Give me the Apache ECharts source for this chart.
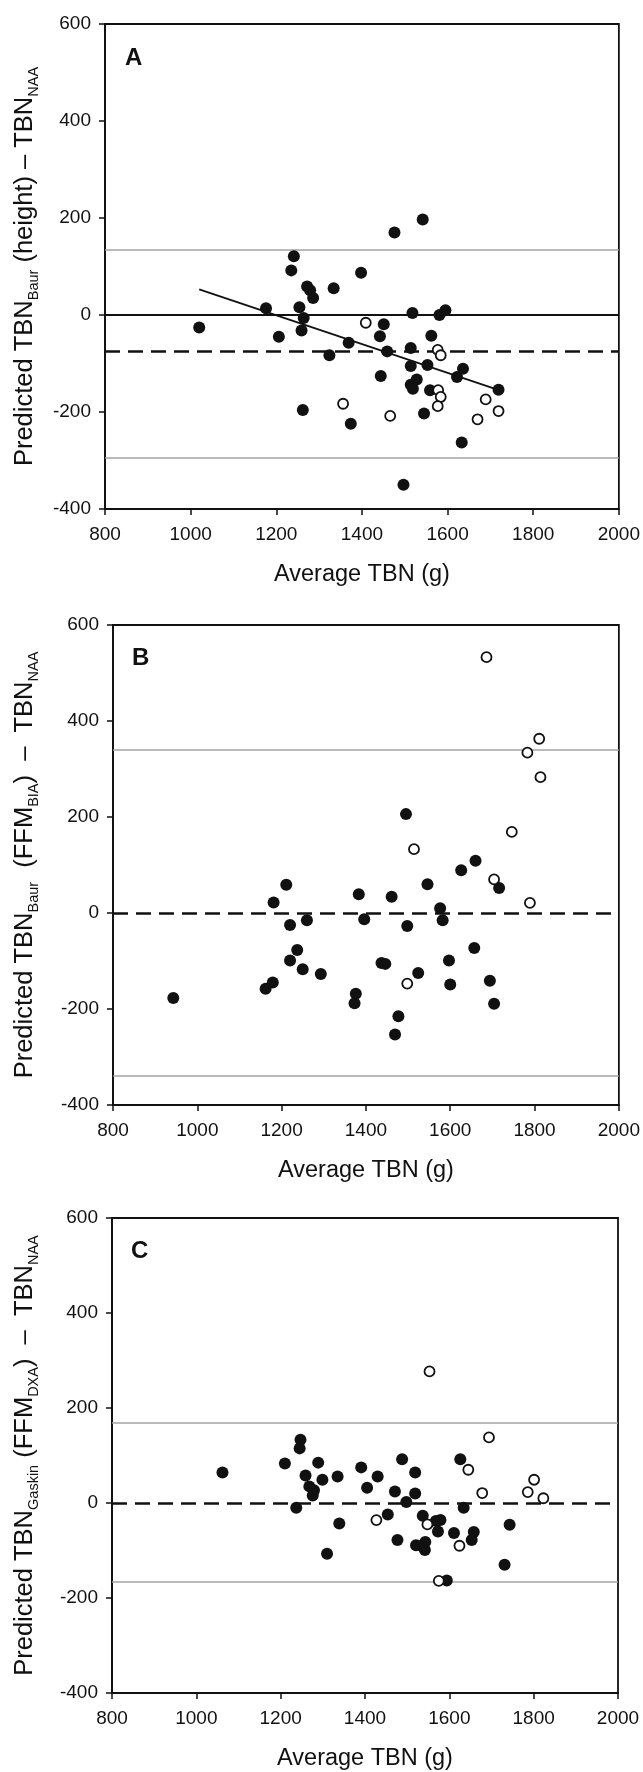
<!DOCTYPE html>
<html>
<head>
<meta charset="utf-8">
<script src="https://cdn.jsdelivr.net/npm/echarts@6/dist/echarts.min.js"></script>
<style>
  html, body { margin: 0; padding: 0; background: #fff; }
  #chart { width: 643px; height: 1772px; }
</style>
</head>
<body>
<div id="chart"></div>
<script>
// axis ranges (shared by the three panels)
const xMin = 800, xMax = 2000, xStep = 200;
const yMin = -400, yMax = 600, yStep = 200;

// panel A: height-based prediction
const aFilled = [
  [1542, 197], [1476, 170], [1241, 121], [1235, 92], [1398, 87], [1272, 59], [1279, 51],
  [1286, 35], [1334, 55], [1176, 14], [1254, 16], [1264, -6], [1518, 4], [1581, 0],
  [1595, 10], [1020, -26], [1451, -19], [1206, -45], [1259, -32], [1442, -44], [1562, -43],
  [1369, -57], [1324, -83], [1459, -75], [1514, -68], [1514, -105], [1553, -103], [1636, -111],
  [1444, -126], [1528, -133], [1622, -128], [1514, -144], [1519, -152], [1559, -155],
  [1719, -154], [1262, -196], [1545, -203], [1374, -224], [1633, -263], [1497, -350]
];
const aOpen = [
  [1409, -16], [1577, -72], [1584, -83], [1578, -155], [1584, -169], [1577, -188],
  [1356, -183], [1689, -174], [1719, -198], [1466, -208], [1670, -215]
];
const aFit = [[1020, 53], [1720, -155]];
const aMean = -75;
const aUpper = 134;
const aLower = -294;

// panel B: FFM (BIA)
const bFilled = [
  [1495, 206], [1660, 109], [1626, 89], [1716, 52], [1211, 59], [1546, 60], [1383, 39],
  [1461, 34], [1181, 22], [1576, 10], [1220, -25], [1260, -15], [1396, -13], [1498, -27],
  [1582, -15], [1237, -77], [1220, -99], [1250, -117], [1293, -127], [1437, -104], [1446, -106],
  [1524, -125], [1657, -73], [1597, -99], [1600, -149], [1694, -141], [1704, -189], [1162, -158],
  [1179, -145], [943, -177], [1376, -168], [1373, -188], [1477, -215], [1469, -253]
];
const bOpen = [
  [1686, 533], [1811, 363], [1783, 334], [1814, 283], [1746, 169], [1514, 133],
  [1704, 70], [1789, 21], [1498, -147]
];
const bMean = 0;
const bUpper = 340;
const bLower = -340;

// panel C: Gaskin, FFM (DXA)
const cFilled = [
  [1247, 133], [1245, 115], [1488, 92], [1626, 92], [1210, 83], [1289, 85], [1391, 75],
  [1062, 64], [1259, 58], [1335, 56], [1299, 49], [1430, 56], [1519, 64], [1268, 35],
  [1279, 27], [1276, 16], [1405, 32], [1471, 24], [1519, 20], [1498, 2], [1237, -10],
  [1634, -10], [1454, -24], [1339, -43], [1537, -27], [1568, -38], [1579, -36], [1573, -60],
  [1743, -46], [1611, -63], [1658, -61], [1653, -78], [1477, -78], [1521, -89], [1534, -90],
  [1543, -82], [1542, -99], [1310, -107], [1731, -130], [1594, -163]
];
const cOpen = [
  [1553, 277], [1694, 138], [1645, 70], [1801, 49], [1678, 21], [1786, 23], [1823, 10],
  [1427, -36], [1548, -45], [1624, -90], [1575, -164]
];
const cMean = 0;
const cUpper = 169;
const cLower = -165;

const yTitles = [
  '{n|Predicted TBN}{s|Baur}{n| (height) \u2013 TBN}{s|NAA}',
  '{n|Predicted TBN}{s|Baur}{n|  (FFM}{s|BIA}{n|)  \u2013  TBN}{s|NAA}',
  '{n|Predicted TBN}{s|Gaskin}{n| (FFM}{s|DXA}{n|)  \u2013  TBN}{s|NAA}'
];
const panelLetters = ['A', 'B', 'C'];

const FONT = '"Liberation Sans", Arial, Helvetica, sans-serif';
const INK = '#111';

const grids = [
  { left: 105, right: 24, top: 24, height: 485 },
  { left: 113, right: 24, top: 625, height: 480 },
  { left: 112, right: 25, top: 1218, height: 478 }
];
const yNameGap = [64, 72, 71];

function makeXAxis(i) {
  return {
    type: 'value', gridIndex: i, min: xMin, max: xMax, interval: xStep,
    name: 'Average TBN (g)', nameLocation: 'middle', nameGap: 54,
    nameTextStyle: { fontSize: 23.5, fontFamily: FONT, color: INK },
    axisLine: { show: true, onZero: false, lineStyle: { color: INK, width: 1.8 } },
    axisTick: { show: true, inside: false, length: 6, lineStyle: { color: INK, width: 1.5 } },
    axisLabel: { fontSize: 19, fontFamily: FONT, color: INK, margin: 16, formatter: v => String(v) },
    splitLine: { show: false }
  };
}

function makeYAxis(i) {
  return {
    type: 'value', gridIndex: i, min: yMin, max: yMax, interval: yStep,
    name: yTitles[i], nameLocation: 'middle', nameRotate: 90, nameGap: yNameGap[i],
    nameTextStyle: {
      fontFamily: FONT, color: INK, fontSize: 25.5,
      rich: {
        n: { fontSize: 25.5, fontFamily: FONT, color: INK, lineHeight: 32 },
        s: { fontSize: 14.5, fontFamily: FONT, color: INK, verticalAlign: 'bottom', lineHeight: 32 }
      }
    },
    axisLine: { show: true, onZero: false, lineStyle: { color: INK, width: 1.8 } },
    axisTick: { show: true, inside: false, length: 6, lineStyle: { color: INK, width: 1.5 } },
    axisLabel: { fontSize: 19, fontFamily: FONT, color: INK, margin: 14, formatter: v => String(v) },
    splitLine: { show: false }
  };
}

const limitStyle = { color: '#a3a3a3', width: 1.6, type: 'solid' };
const meanStyle = { color: INK, width: 2.5, type: [15, 8] };
const zeroStyle = { color: INK, width: 2, type: 'solid' };

function refLines(i, lines) {
  return {
    type: 'line', xAxisIndex: i, yAxisIndex: i, data: [], z: 1,
    markLine: {
      silent: true, symbol: 'none', z: 1, label: { show: false },
      data: lines
    }
  };
}

function dots(i, data, open) {
  return {
    type: 'scatter', xAxisIndex: i, yAxisIndex: i, data: data, z: 4,
    symbol: 'circle', symbolSize: open ? 10 : 12, silent: true,
    itemStyle: open
      ? { color: '#fff', borderColor: INK, borderWidth: 1.8, opacity: 1 }
      : { color: INK, opacity: 1 }
  };
}

const series = [
  refLines(0, [
    { yAxis: aUpper, lineStyle: limitStyle },
    { yAxis: aLower, lineStyle: limitStyle },
    { yAxis: 0, lineStyle: zeroStyle },
    { yAxis: aMean, lineStyle: meanStyle }
  ]),
  {
    type: 'line', xAxisIndex: 0, yAxisIndex: 0, data: aFit, z: 2,
    showSymbol: false, silent: true,
    lineStyle: { color: INK, width: 1.8 }
  },
  dots(0, aFilled, false),
  dots(0, aOpen, true),

  refLines(1, [
    { yAxis: bUpper, lineStyle: limitStyle },
    { yAxis: bLower, lineStyle: limitStyle },
    { yAxis: bMean, lineStyle: meanStyle }
  ]),
  dots(1, bFilled, false),
  dots(1, bOpen, true),

  refLines(2, [
    { yAxis: cUpper, lineStyle: limitStyle },
    { yAxis: cLower, lineStyle: limitStyle },
    { yAxis: cMean, lineStyle: meanStyle }
  ]),
  dots(2, cFilled, false),
  dots(2, cOpen, true)
];

const letterPos = [[125, 46], [132, 646], [131, 1239]];

const chart = echarts.init(document.getElementById('chart'), null, { renderer: 'canvas' });
chart.setOption({
  animation: false,
  backgroundColor: '#fff',
  title: panelLetters.map((t, i) => ({
    text: t, left: letterPos[i][0], top: letterPos[i][1], padding: 0,
    textStyle: { fontSize: 24, fontWeight: 'bold', fontFamily: FONT, color: INK }
  })),
  grid: grids.map(g => Object.assign({ show: true, borderColor: INK, borderWidth: 1.8, backgroundColor: 'transparent' }, g)),
  xAxis: [0, 1, 2].map(makeXAxis),
  yAxis: [0, 1, 2].map(makeYAxis),
  series: series
});
</script>
</body>
</html>
